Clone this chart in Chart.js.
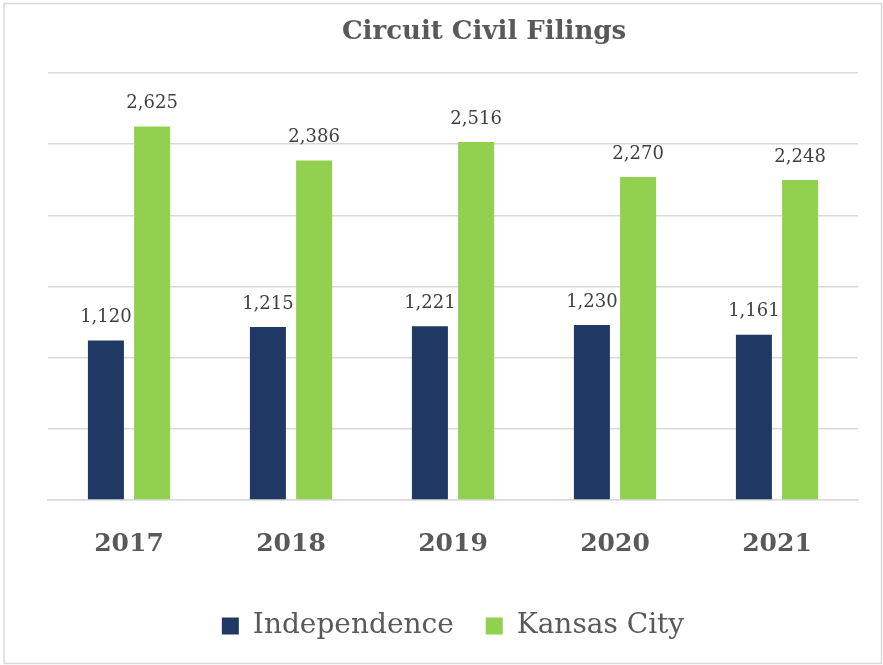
<!DOCTYPE html>
<html>
<head>
<meta charset="utf-8">
<script src="https://cdn.jsdelivr.net/npm/chart.js@4"></script>
<style>
  html, body { margin: 0; padding: 0; background: #fff; }
  #wrap { width: 883px; height: 665px; position: relative; }
</style>
</head>
<body>
<div id="wrap"><canvas id="chart" width="883" height="665"></canvas></div>
<script>
// chart data
var years = ["2017", "2018", "2019", "2020", "2021"];
var independence = [1120, 1215, 1221, 1230, 1161];
var kansasCity = [2625, 2386, 2516, 2270, 2248];
var chartTitle = "Circuit Civil Filings";

var textColor = "#595959";
var serif = "'DejaVu Serif', 'Liberation Serif', serif";

// outer frame like the office chart border
var framePlugin = {
  id: "frame",
  beforeDraw: function (chart) {
    var ctx = chart.ctx;
    ctx.save();
    ctx.fillStyle = "#fff";
    ctx.fillRect(0, 0, chart.width, chart.height);
    ctx.strokeStyle = "#d9d9d9";
    ctx.lineWidth = 1.5;
    ctx.strokeRect(4, 3.5, chart.width - 5.5, chart.height - 5);
    ctx.restore();
  },
};

// title sits a bit right of the plot centre in the original
var titlePlugin = {
  id: "offsetTitle",
  afterDraw: function (chart) {
    var ctx = chart.ctx;
    ctx.save();
    ctx.font = "bold 26px " + serif;
    ctx.fillStyle = textColor;
    ctx.textAlign = "center";
    ctx.textBaseline = "middle";
    ctx.fillText(chartTitle, 484, 32);
    ctx.restore();
  },
};

// value labels above each bar
var valueLabels = {
  id: "valueLabels",
  afterDatasetsDraw: function (chart) {
    var ctx = chart.ctx;
    ctx.save();
    ctx.font = "18px " + serif;
    ctx.fillStyle = "#404040";
    ctx.textAlign = "center";
    ctx.textBaseline = "bottom";
    chart.data.datasets.forEach(function (ds, i) {
      chart.getDatasetMeta(i).data.forEach(function (bar, j) {
        ctx.fillText(ds.data[j].toLocaleString("en-US"), bar.x, bar.y - 14);
      });
    });
    ctx.restore();
  },
};

new Chart(document.getElementById("chart"), {
  type: "bar",
  data: {
    labels: years,
    datasets: [
      {
        label: "Independence",
        data: independence,
        backgroundColor: "#1f3864",
        categoryPercentage: 0.57,
        barPercentage: 0.78,
      },
      {
        label: "Kansas City",
        data: kansasCity,
        backgroundColor: "#92d050",
        categoryPercentage: 0.57,
        barPercentage: 0.78,
      },
    ],
  },
  options: {
    responsive: false,
    animation: false,
    layout: { padding: { left: 48, right: 25, top: 73, bottom: 15 } },
    plugins: {
      title: { display: false },
      legend: {
        position: "bottom",
        labels: {
          color: textColor,
          font: { family: serif, size: 28 },
          boxWidth: 17,
          boxHeight: 17,
          padding: 32,
        },
      },
      tooltip: { enabled: false },
    },
    scales: {
      x: {
        grid: { display: false },
        border: { color: "#d9d9d9", width: 1.5 },
        ticks: {
          color: textColor,
          font: { family: serif, size: 25, weight: "bold" },
          padding: 21,
        },
      },
      y: {
        min: 0,
        max: 3000,
        ticks: { display: false, stepSize: 500 },
        border: { display: false },
        grid: { color: "#d9d9d9", lineWidth: 1.5, drawTicks: false },
      },
    },
  },
  plugins: [framePlugin, valueLabels, titlePlugin],
});
</script>
</body>
</html>
